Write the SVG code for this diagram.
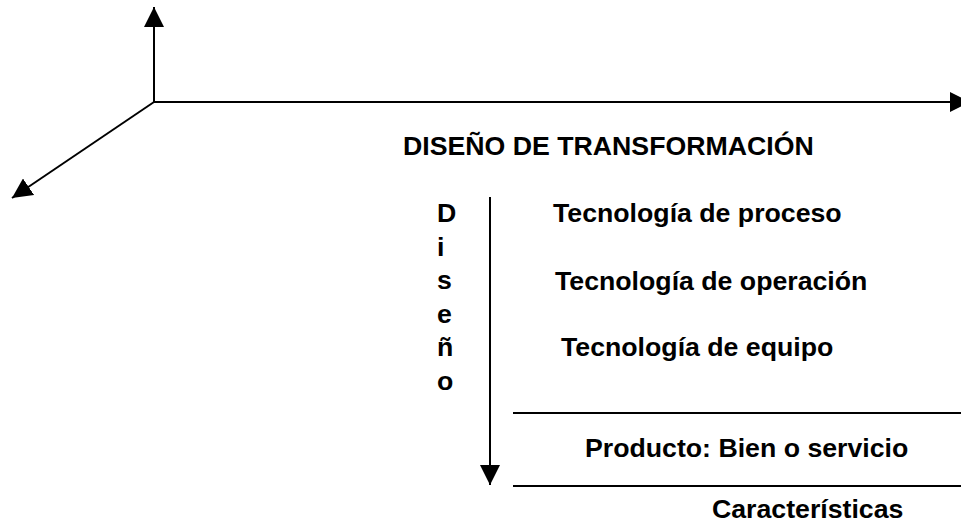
<svg xmlns="http://www.w3.org/2000/svg" width="961" height="524" viewBox="0 0 961 524">
  <style>
    .t { font-family: "Liberation Sans", Arial, sans-serif; font-weight: bold; font-size: 26.7px; fill: #000; }
    .ln { stroke: #000; stroke-width: 2; fill: none; }
  </style>
  <defs>
    <marker id="ah" markerUnits="userSpaceOnUse" markerWidth="20" markerHeight="20" refX="20" refY="10" orient="auto" viewBox="0 0 20 20">
      <path d="M0,0 L20,10 L0,20 Z" fill="#000"/>
    </marker>
  </defs>
  <rect width="961" height="524" fill="#fff"/>

  <g id="connectors">
    <line class="ln" x1="154" y1="102" x2="154" y2="7" marker-end="url(#ah)"/>
    <line class="ln" x1="154" y1="102" x2="970" y2="102" marker-end="url(#ah)"/>
    <line class="ln" x1="154" y1="102" x2="12" y2="198" marker-end="url(#ah)"/>
    <line class="ln" x1="490" y1="197" x2="490" y2="485" marker-end="url(#ah)"/>
    <line class="ln" x1="513" y1="413" x2="961" y2="413"/>
    <line class="ln" x1="513" y1="486" x2="961" y2="486"/>
  </g>

  <g id="titulo">
    <text class="t" x="403" y="155">DISEÑO DE TRANSFORMACIÓN</text>
  </g>
  <g id="diseno">
    <text class="t" x="437" y="222">D</text>
    <text class="t" x="437" y="255.6">i</text>
    <text class="t" x="437" y="289.2">s</text>
    <text class="t" x="437" y="322.8">e</text>
    <text class="t" x="437" y="356.4">ñ</text>
    <text class="t" x="437" y="390">o</text>
  </g>
  <g id="tec-proceso">
    <text class="t" x="553" y="222">Tecnología de proceso</text>
  </g>
  <g id="tec-operacion">
    <text class="t" x="555" y="290">Tecnología de operación</text>
  </g>
  <g id="tec-equipo">
    <text class="t" x="561" y="356">Tecnología de equipo</text>
  </g>
  <g id="producto">
    <text class="t" x="585" y="457">Producto: Bien o servicio</text>
  </g>
  <g id="caracteristicas">
    <text class="t" x="712" y="518">Características</text>
  </g>
</svg>
